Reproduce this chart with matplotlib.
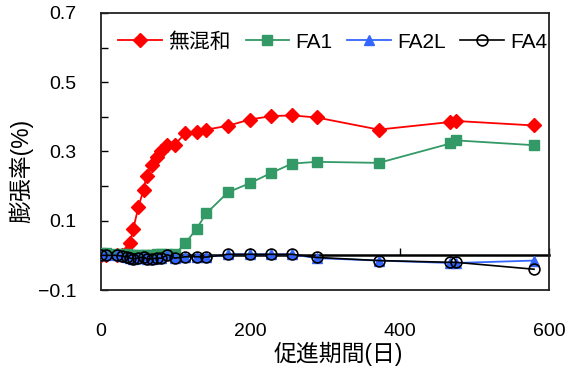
import numpy as np
import matplotlib
matplotlib.use('Agg')
import matplotlib.pyplot as plt

plt.rcParams['font.family'] = ['Liberation Sans', 'Noto Sans CJK JP', 'DejaVu Sans']
plt.rcParams['axes.unicode_minus'] = True

# Promotion period (days) and expansion rate (%) per mix
days = [0, 7, 21, 28, 35, 39, 43, 50, 57, 61, 68, 75, 81, 89, 99,
        113, 128, 141, 170, 199, 228, 256, 289, 372, 468, 475, 580]
plain = [0.0, 0.0, 0.0, 0.0, 0.01, 0.037, 0.075, 0.139, 0.19, 0.23, 0.26, 0.284, 0.30, 0.318, 0.32,
         0.353, 0.356, 0.363, 0.374, 0.392, 0.402, 0.404, 0.398, 0.363, 0.385, 0.388, 0.375]
fa1 = [0.006, 0.006, 0.005, 0.004, 0.003, 0.002, 0.002, 0.002, 0.002, 0.002, 0.002, 0.003, 0.003, 0.004, 0.004,
       0.035, 0.077, 0.121, 0.182, 0.208, 0.238, 0.265, 0.27, 0.267, 0.323, 0.332, 0.318]
fa2l = [0.0, 0.0, 0.0, -0.002, -0.005, -0.008, -0.01, -0.008, -0.004, -0.01, -0.01, -0.008, -0.008, 0.002, -0.008,
        -0.004, -0.004, -0.005, 0.003, 0.003, 0.003, 0.003, -0.008, -0.015, -0.022, -0.022, -0.015]
fa4 = [0.0, 0.0, 0.0, -0.002, -0.005, -0.008, -0.01, -0.008, -0.004, -0.01, -0.01, -0.008, -0.008, 0.002, -0.008,
       -0.004, -0.004, -0.005, 0.003, 0.003, 0.003, 0.003, -0.006, -0.015, -0.02, -0.02, -0.04]

series_names = ['無混和', 'FA1', 'FA2L', 'FA4']
xticks = [0, 200, 400, 600]
yticks = [-0.1, 0.0, 0.1, 0.2, 0.3, 0.4, 0.5, 0.6, 0.7]
ytick_labels = ['\u22120.1', '', '0.1', '', '0.3', '', '0.5', '', '0.7']

fig = plt.figure(figsize=(5.75, 3.72), dpi=100)
ax = fig.add_axes([0.1757, 0.2204, 0.779, 0.745])

ax.plot(days, plain, color='#FF0000', lw=1.3, marker='D', ms=7.5,
        mfc='#FF0000', mec='#FF0000', label=series_names[0], zorder=3)
ax.plot(days, fa1, color='#339966', lw=1.3, marker='s', ms=7.8,
        mfc='#339966', mec='#339966', label=series_names[1], zorder=4)
ax.plot(days, fa2l, color='#3366FF', lw=1.3, marker='^', ms=7.8,
        mfc='#3366FF', mec='#3366FF', label=series_names[2], zorder=5)
ax.plot(days, fa4, color='black', lw=1.2, marker='o', ms=7.8,
        mfc='none', mec='black', mew=1.2, label=series_names[3], zorder=6)

ax.set_xlim(0, 600)
ax.set_ylim(-0.1, 0.7)

ax.set_yticks(yticks)
ax.set_yticklabels(ytick_labels)
ax.tick_params(axis='y', direction='in', length=5, width=1, pad=18, labelsize=14)
ax.tick_params(axis='x', length=0, pad=24, labelsize=14)
ax.set_xticks(xticks)

for sp in ax.spines.values():
    sp.set_linewidth(1.3)
    sp.set_color('#222222')

# zero line acts as the x axis with inward ticks
zero_pos = (0 - (-0.1)) / 0.8
sec = ax.secondary_xaxis(zero_pos)
sec.set_xticks(xticks)
sec.tick_params(direction='in', length=5, width=1, labelbottom=False, labeltop=False)
sec.spines['bottom'].set_linewidth(1.8)
sec.spines['bottom'].set_color('black')
sec.spines['top'].set_visible(False)

ax.set_ylabel('膨張率(%)', fontsize=16.5)
ax.yaxis.set_label_coords(-0.152, 0.43)
ax.set_xlabel('促進期間(日)', fontsize=16.5)
ax.xaxis.set_label_coords(0.529, -0.185)

ax.legend(loc='upper left', bbox_to_anchor=(0.02, 0.96), ncol=4, frameon=False,
          fontsize=15, handlelength=2.1, handletextpad=0.3, columnspacing=0.7,
          borderaxespad=0.0)

fig.savefig('out.png', dpi=100)
